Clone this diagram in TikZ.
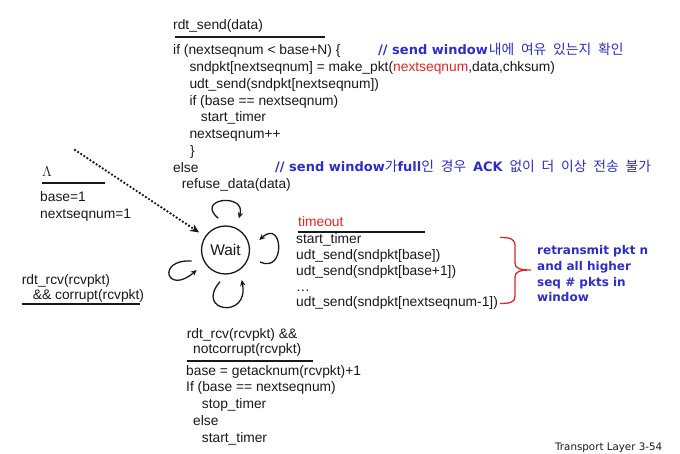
\documentclass[tikz,border=0pt]{standalone}
\usepackage{fontspec}
\setmainfont{Liberation Sans}
\newfontfamily\notefont{DejaVu Sans}
\newfontfamily\hangulfont{Noto Sans CJK KR}[WordSpace=2.2]
\newfontfamily\footfont{DejaVu Sans}
\usetikzlibrary{arrows.meta}

\definecolor{ink}{RGB}{25,25,25}
\definecolor{noteblue}{RGB}{45,45,200}
\definecolor{hotred}{RGB}{230,35,35}

\newcommand{\notetext}[2][13]{{\notefont\bfseries\fontsize{#1}{#1}\selectfont #2}}
\newcommand{\krtext}[2][13.8]{{\hangulfont\fontsize{#1}{#1}\selectfont #2}}

% multi-line nodes sit on the baseline of their last line
\tikzset{every node/.style={inner sep=0pt,anchor=base west,align=left,text=ink,font=\fontsize{13.8}{16.75}\selectfont},
  note/.style={text=noteblue},
  redlabel/.style={text=hotred},
  state/.style={draw=ink,circle,line width=1.3pt,minimum size=48pt,anchor=center,font=\fontsize{15.5}{18}\selectfont},
  rule/.style={draw=ink,line width=2.2pt},
  loopline/.style={draw=ink,line width=1.3pt,-{Stealth[length=6pt,width=5.5pt]}},
  initline/.style={draw=ink,line width=2.6pt,line cap=round,dash pattern=on 0pt off 3.7pt,shorten >=7pt,-{Stealth[length=9pt,width=8pt]}},
  braceline/.style={draw=hotred,line width=1.3pt}}

\begin{document}
\begin{tikzpicture}[x=1pt,y=-1pt]
\useasboundingbox (0,0) rectangle (680,454);

% state
\node[state] (wait) at (225.5,250) {Wait};

% initial transition
\node (lam) at (42,177) {$\Lambda$};
\draw[rule] (41.5,183.3) -- (105,183.3);
\node (init) at (40,218.75) {base=1\\nextseqnum=1};
\coordinate (start) at (75,150);
\draw[initline] (start) -- (wait);

% rdt_send
\node (sendev) at (173,29.5) {rdt\_send(data)};
\draw[rule] (175,36.7) -- (325,36.7);
\node (sendact) at (173,189) {if (nextseqnum < base+N) \{\\
  \hspace*{16.3pt}sndpkt[nextseqnum] = make\_pkt(\textcolor{hotred}{nextseqnum},data,chksum)\\
  \hspace*{16.3pt}udt\_send(sndpkt[nextseqnum])\\
  \hspace*{16.3pt}if (base == nextseqnum)\\
  \hspace*{27.7pt}start\_timer\\
  \hspace*{16.3pt}nextseqnum++\\
  \hspace*{17pt}\}\\
  else\\
  \hspace*{8.7pt}refuse\_data(data)};
\node[note] (sendcmt) at (378,55) {\notetext{// send window}\kern1pt\krtext{내에 여유 있는지 확인}};
\node[note] (fullcmt) at (275,172) {\notetext{// send window}\krtext{가}\notetext{full}\krtext{인 경우 }\notetext{ACK}\krtext{\ 없이 더 이상 전송 불가}};

% timeout
\node[redlabel] (toev) at (298,226.5) {timeout};
\draw[rule] (298,231.7) -- (425,231.7);
\node[font=\fontsize{13.8}{15.75}\selectfont] (toact) at (296,307) {start\_timer\\udt\_send(sndpkt[base])\\udt\_send(sndpkt[base+1])\\…\\udt\_send(sndpkt[nextseqnum-1])};
\draw[braceline] (500,237.5) .. controls (511,237.5) and (515,239) .. (515,246) -- (515,263)
  .. controls (515,268.5) and (520,270) .. (531,270)
  .. controls (520,270) and (515,271.5) .. (515,277) -- (515,296)
  .. controls (515,302) and (511,303.5) .. (500,303.5);
\node[note,font=\notefont\bfseries\fontsize{12}{15.6}\selectfont] (renote) at (537,301.8) {retransmit pkt n\\and all higher\\seq \# pkts in\\window};

% corrupt
\node[font=\fontsize{13.8}{15.25}\selectfont] (corrupt) at (21.7,299.75) {rdt\_rcv(rcvpkt)\\\hspace*{11pt}\&\& corrupt(rcvpkt)};
\draw[rule] (21.7,304) -- (140,304);

% notcorrupt
\node[font=\fontsize{13.8}{15}\selectfont] (ackev) at (186.7,353.7) {rdt\_rcv(rcvpkt) \&\&\\\hspace*{6.3pt}notcorrupt(rcvpkt)};
\draw[rule] (186.7,360.7) -- (313,360.7);
\node (ackact) at (186,442) {base = getacknum(rcvpkt)+1\\If (base == nextseqnum)\\\hspace*{15.7pt}stop\_timer\\\hspace*{7pt}else\\\hspace*{15.7pt}start\_timer};

% self loops
\coordinate (topout) at ([shift={(-7.2,-31.7)}]wait.center);
\coordinate (topin) at ([shift={(13.3,-31.7)}]wait.center);
\coordinate (rightout) at ([shift={(34.5,12)}]wait.center);
\coordinate (rightin) at ([shift={(33.8,-10)}]wait.center);
\coordinate (leftout) at ([shift={(-33.8,11)}]wait.center);
\coordinate (leftin) at ([shift={(-28.8,20)}]wait.center);
\coordinate (botout) at ([shift={(-5.5,31.7)}]wait.center);
\coordinate (botin) at ([shift={(16.2,30)}]wait.center);
\draw[loopline] (topout) .. controls +(-24,-20) and +(8,-26) .. (topin);
\draw[loopline] (rightout) .. controls +(26,12) and +(24,-22) .. (rightin);
\draw[loopline] (leftout) .. controls +(-36,-2) and +(-30,26) .. (leftin);
\draw[loopline] (botout) .. controls +(-26,30) and +(8,40) .. (botin);

% footer
\node[font=\footfont\fontsize{10.3}{12}\selectfont] (foot) at (555,450) {Transport Layer 3-54};
\end{tikzpicture}
\end{document}
